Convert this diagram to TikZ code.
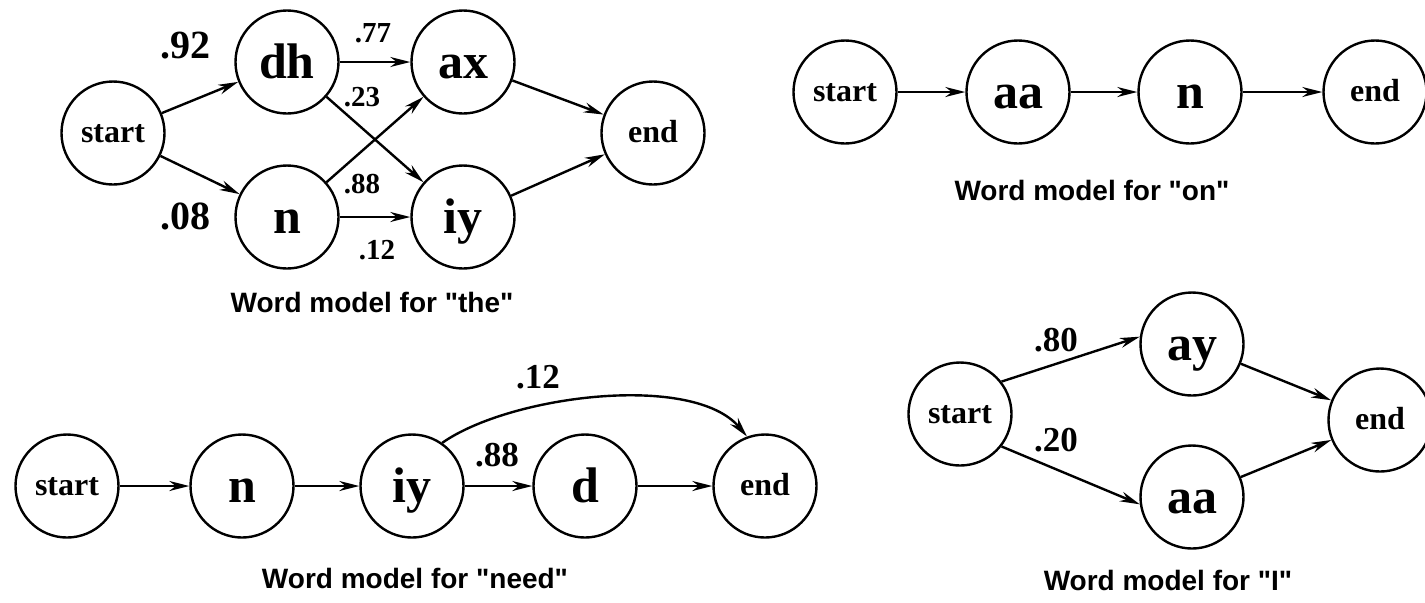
\documentclass[tikz,border=0pt]{standalone}
\usepackage{fontspec}
\setmainfont{Liberation Serif}
\setsansfont{Liberation Sans}
\usetikzlibrary{arrows.meta}
\tikzset{
  st/.style={circle,draw,line width=1.2pt,minimum size=51.5pt,inner sep=0pt},
  big/.style={font=\bfseries\fontsize{25}{25}\selectfont,text height=16pt,text depth=0pt},
  se/.style={font=\bfseries\fontsize{16}{16}\selectfont,text height=9pt,text depth=0pt},
  labA/.style={font=\bfseries\fontsize{20}{20}\selectfont,inner sep=0pt},
  labB/.style={font=\bfseries\fontsize{14.5}{14.5}\selectfont,inner sep=0pt},
  labC/.style={font=\bfseries\fontsize{17.5}{17.5}\selectfont,inner sep=0pt},
  captxt/.style={font=\sffamily\bfseries\fontsize{14}{14}\selectfont,inner sep=0pt},
  arr/.style={line width=1.2pt,-{Stealth[length=10pt,width=5pt]}}
}
\begin{document}
\begin{tikzpicture}[x=0.5pt,y=-0.5pt]
\useasboundingbox (0,0) rectangle (1425,602);
% ---- "the"
\node[st,se] (t-s) at (113,133) {start};
\node[st,big] (t-dh) at (287,62) {dh};
\node[st,big] (t-n) at (287,217) {n};
\node[st,big] (t-ax) at (463,62) {ax};
\node[st,big] (t-iy) at (463,217) {iy};
\node[st,se] (t-e) at (653,133) {end};
\draw[arr] (t-s) -- (t-dh);
\draw[arr] (t-s) -- (t-n);
\draw[arr] (t-dh) -- (t-ax);
\draw[arr] (t-dh) -- (t-iy);
\draw[arr] (t-n) -- (t-ax);
\draw[arr] (t-n) -- (t-iy);
\draw[arr] (t-ax) -- (t-e);
\draw[arr] (t-iy) -- (t-e);
\node[labA] (t-l1) at (185,46) {.92};
\node[labA] (t-l2) at (185,216) {.08};
\node[labB] (t-l3) at (373,33) {.77};
\node[labB] (t-l4) at (362,97) {.23};
\node[labB] (t-l5) at (362,184) {.88};
\node[labB] (t-l6) at (377,250) {.12};
\node[captxt] (t-c) at (372,302) {Word model for \textquotedbl the\textquotedbl};
% ---- "on"
\node[st,se] (o-s) at (845,92) {start};
\node[st,big] (o-aa) at (1018,92) {aa};
\node[st,big] (o-n) at (1190,92) {n};
\node[st,se] (o-e) at (1375,92) {end};
\draw[arr] (o-s) -- (o-aa);
\draw[arr] (o-aa) -- (o-n);
\draw[arr] (o-n) -- (o-e);
\node[captxt] (o-c) at (1092,190) {Word model for \textquotedbl on\textquotedbl};
% ---- "need"
\node[st,se] (n-s) at (67,486) {start};
\node[st,big] (n-n) at (242,486) {n};
\node[st,big] (n-iy) at (412,486) {iy};
\node[st,big] (n-d) at (585,486) {d};
\node[st,se] (n-e) at (765,486) {end};
\draw[arr] (n-s) -- (n-n);
\draw[arr] (n-n) -- (n-iy);
\draw[arr] (n-iy) -- (n-d);
\draw[arr] (n-d) -- (n-e);
\draw[arr] (n-iy.55) to[out=35,in=130,looseness=0.7] (n-e.110);
\node[labC] (n-l1) at (538,377) {.12};
\node[labC] (n-l2) at (497,455) {.88};
\node[captxt] (n-c) at (415,578) {Word model for \textquotedbl need\textquotedbl};
% ---- "I"
\node[st,se] (i-s) at (960,414) {start};
\node[st,big] (i-ay) at (1192,344) {ay};
\node[st,big] (i-aa) at (1192,497) {aa};
\node[st,se] (i-e) at (1380,420) {end};
\draw[arr] (i-s.38) -- (i-ay.172);
\draw[arr] (i-s.-38) -- (i-aa.188);
\draw[arr] (i-ay) -- (i-e);
\draw[arr] (i-aa) -- (i-e);
\node[labC] (i-l1) at (1056,340) {.80};
\node[labC] (i-l2) at (1056,440) {.20};
\node[captxt] (i-c) at (1168,580) {Word model for \textquotedbl I\textquotedbl};
\end{tikzpicture}
\end{document}
